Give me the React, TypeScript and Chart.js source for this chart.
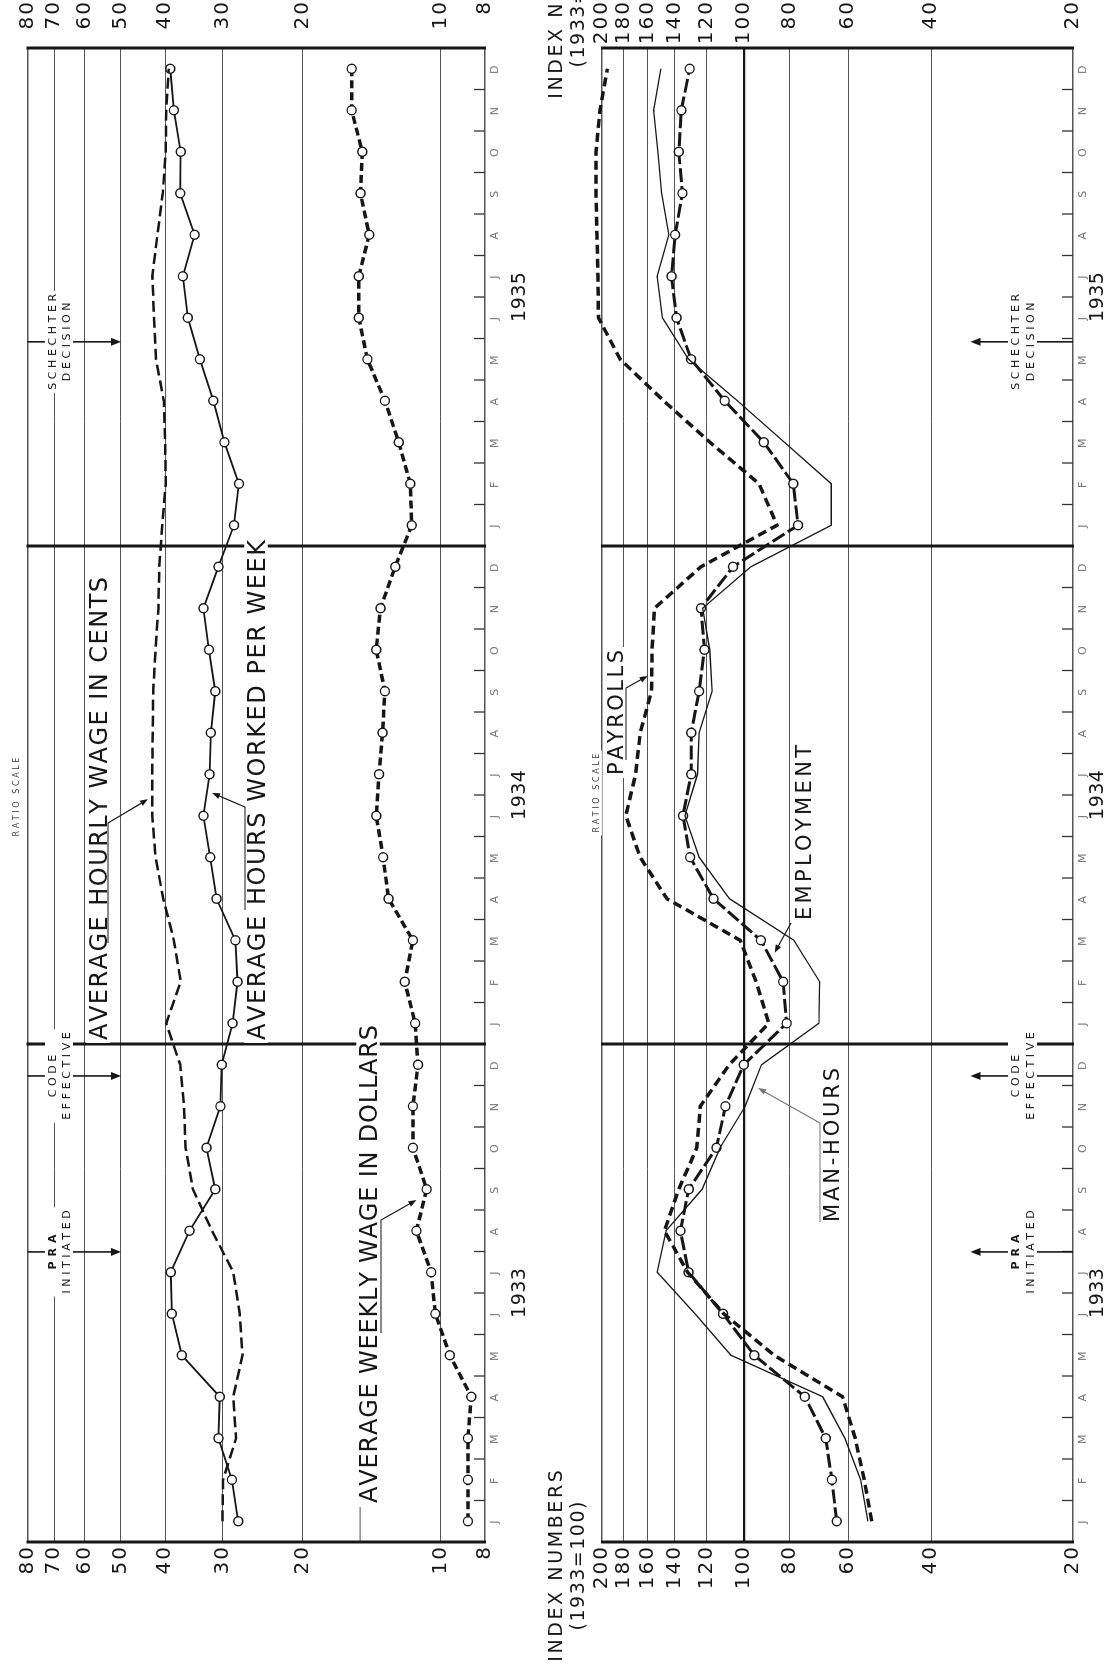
import React, { useEffect, useRef } from 'react';
import { Chart, registerables } from 'chart.js';

Chart.register(...registerables);

const FONT = '"DejaVu Sans", "Liberation Sans", Arial, sans-serif';
const NAT_W = 1676; // natural chart width (= screen height after rotation)
const INK = '#161616';

// ---------------- data ----------------
const monthInitials = ['J', 'F', 'M', 'A', 'M', 'J', 'J', 'A', 'S', 'O', 'N', 'D'];
const monthLabels = [...monthInitials, ...monthInitials, ...monthInitials];
const yearLabels = ['1933', '1934', '1935'];

const leftTicks = [8, 10, 20, 30, 40, 50, 60, 70, 80];
const rightTicks = [20, 40, 60, 80, 100, 120, 140, 160, 180, 200];

// Left panel (ratio scale)
const hourlyWageCents = [
  30.0, 29.9, 28.0, 28.4, 27.1, 27.5, 28.4, 31.6, 34.8, 36.1, 36.4, 37.1,
  39.8, 37.0, 38.3, 40.4, 42.0, 42.7, 42.7, 42.6, 42.5, 42.0, 41.4, 41.2,
  40.6, 39.9, 40.0, 40.3, 41.9, 42.3, 42.7, 41.6, 40.5, 39.9, 39.8, 39.3,
];
const hoursWorkedPerWeek = [
  27.7, 28.6, 30.6, 30.4, 36.8, 38.7, 38.9, 35.4, 31.1, 32.5, 30.3, 30.1,
  28.5, 27.8, 28.1, 30.9, 31.9, 33.0, 32.0, 31.8, 31.1, 32.1, 33.0, 30.6,
  28.3, 27.6, 29.7, 31.4, 33.6, 35.7, 36.6, 34.5, 37.1, 37.0, 38.3, 39.0,
];
const weeklyWageDollars = [
  8.72, 8.72, 8.72, 8.57, 9.55, 10.27, 10.49, 11.3, 10.73, 11.5, 11.5, 11.21,
  11.37, 11.98, 11.5, 13.0, 13.36, 13.83, 13.64, 13.4, 13.24, 13.83, 13.54, 12.57,
  11.57, 11.65, 12.35, 13.24, 14.46, 15.1, 15.1, 14.33, 14.97, 14.84, 15.65, 15.65,
];

// Right panel (index numbers, 1933 = 100)
const payrolls = [
  53.5, 55.5, 58, 61.7, 86.2, 110.3, 131.6, 147.4, 137.4, 125.8, 123.7, 107.4,
  88.5, 94.1, 101.8, 145.6, 166, 178, 169.7, 165.9, 157, 156.6, 154.7, 123.3,
  85, 92.8, 118, 148, 183, 203.5, 204, 205, 206, 206, 202, 194.8,
];
const manHours = [
  54.5, 56.5, 61, 68, 106.5, 127, 152.7, 146.2, 122.6, 112.3, 99.3, 91.7,
  69.3, 69, 78.3, 107.2, 124.4, 133.4, 125.4, 124.4, 116.7, 118.1, 122.3, 96.6,
  65.2, 65.2, 82, 103.2, 131, 148.9, 152.7, 144.3, 149.4, 152.2, 155.4, 150,
];
const employment = [
  63.5, 65, 67, 74.2, 95.0, 110.7, 131.0, 136.3, 130.9, 114.3, 109.4, 100,
  81.1, 82.5, 92, 116, 130, 134.6, 129.3, 129.3, 124.4, 121.2, 123.3, 105.4,
  76.7, 78.5, 90.7, 109.8, 129.4, 138.9, 142.4, 139.9, 135.0, 137.4, 135.7, 130.3,
];

// events (fractional month index, 0 = Jan 1933)
const eventLabels = [['PRA', 'INITIATED'], ['CODE', 'EFFECTIVE'], ['SCHECHTER', 'DECISION']];
const eventMonthIndex = [6.49, 10.73, 28.42];

// ---------------- drawing helpers ----------------
function capH(size: number) {
  return size * 0.729;
}

function measure(ctx: any, text: string, size: number, weight: string, spacing: number) {
  ctx.font = `${weight} ${size}px ${FONT}`;
  const chars = Array.from(text);
  const widths = chars.map((c) => ctx.measureText(c).width);
  const natural = widths.reduce((a, b) => a + b, 0);
  return { chars, widths, natural, total: natural + spacing * (chars.length - 1) };
}

function drawText(ctx: any, text: string, o: any) {
  const size = o.size;
  const weight = o.weight || 'normal';
  let spacing = o.spacing ?? 0;
  let m = measure(ctx, text, size, weight, spacing);
  let start: number;
  if (o.u0 !== undefined && o.u1 !== undefined) {
    spacing = (o.u1 - o.u0 - m.natural) / Math.max(1, m.chars.length - 1);
    m = measure(ctx, text, size, weight, spacing);
    start = o.u0;
  } else {
    start = o.uc - m.total / 2;
  }
  const ch = capH(size);
  if (o.bg) {
    ctx.fillStyle = '#fff';
    ctx.fillRect(start - 3, o.v - ch / 2 - 3, m.total + 6, ch + 6);
  }
  ctx.fillStyle = o.color || INK;
  ctx.textAlign = 'left';
  ctx.textBaseline = 'alphabetic';
  let u = start;
  m.chars.forEach((c, i) => {
    ctx.fillText(c, u, o.v + ch / 2);
    u += m.widths[i] + spacing;
  });
  return { start, end: start + m.total };
}

function arrowHead(ctx: any, fu: number, fv: number, tu: number, tv: number, len = 9, half = 3.5) {
  const a = Math.atan2(tv - fv, tu - fu);
  ctx.beginPath();
  ctx.moveTo(tu, tv);
  ctx.lineTo(tu - len * Math.cos(a) + half * Math.sin(a), tv - len * Math.sin(a) - half * Math.cos(a));
  ctx.lineTo(tu - len * Math.cos(a) - half * Math.sin(a), tv - len * Math.sin(a) + half * Math.cos(a));
  ctx.closePath();
  ctx.fill();
}

function makeDecor(spec: any) {
  const toU = (y: number) => NAT_W - y; // screen y -> natural x
  const toV = (x: number) => x - spec.offset; // screen x -> natural y (canvas local)
  return {
    id: 'decor',
    beforeLayout(chart: any) {
      // wider digit spacing for the axis lettering
      chart.ctx.letterSpacing = '2px';
    },
    beforeDatasetsDraw(chart: any) {
      const { ctx, chartArea: ca, scales } = chart;
      const xs = scales.x;
      const ys = scales.y;
      ctx.save();
      ctx.letterSpacing = '0px';
      if (spec.partialGrid) {
        const v = ys.getPixelForValue(spec.partialGrid.value);
        ctx.strokeStyle = '#555';
        ctx.lineWidth = 1;
        ctx.beginPath();
        ctx.moveTo(ca.left, v);
        ctx.lineTo(toU(spec.partialGrid.toY), v);
        ctx.stroke();
      }
      // month tick marks
      ctx.strokeStyle = '#333';
      ctx.lineWidth = 1.3;
      for (let i = 0; i < monthLabels.length - 1; i++) {
        const u = xs.getPixelForValue(i + 0.5);
        ctx.beginPath();
        ctx.moveTo(u, ca.bottom);
        ctx.lineTo(u, ca.bottom - 11);
        ctx.stroke();
      }
      // year boundaries and ends of the time axis
      ctx.strokeStyle = INK;
      ctx.lineWidth = 3;
      for (let k = 0; k <= yearLabels.length; k++) {
        const u = xs.getPixelForValue(k * 12 - 0.5);
        ctx.beginPath();
        ctx.moveTo(u, ca.top - 1);
        ctx.lineTo(u, ca.bottom + 1);
        ctx.stroke();
      }
      ctx.restore();
    },
    afterDatasetsDraw(chart: any) {
      const { ctx, chartArea: ca, scales } = chart;
      const xs = scales.x;
      const ys = scales.y;
      ctx.save();
      ctx.letterSpacing = '0px';
      // year labels
      yearLabels.forEach((yl, k) => {
        const u = xs.getPixelForValue(k * 12 + 5.5);
        drawText(ctx, yl, { uc: u, v: ca.bottom + spec.yearGap, size: 19, spacing: 0.5 });
      });
      // event arrows
      eventLabels.forEach((lines, k) => {
        const u = xs.getPixelForValue(eventMonthIndex[k]);
        const vEnd = ys.getPixelForValue(spec.eventReach);
        const vStart = spec.eventSide === 'top' ? ca.top : ca.bottom;
        const dir = vEnd > vStart ? 1 : -1;
        ctx.strokeStyle = INK;
        ctx.fillStyle = INK;
        ctx.lineWidth = 1.6;
        ctx.beginPath();
        ctx.moveTo(u, vStart);
        ctx.lineTo(u, vEnd - dir * 8);
        ctx.stroke();
        arrowHead(ctx, u, vStart, u, vEnd, 10, 4);
        const s1 = k === 0 ? 5 : 3.6;
        const m1 = measure(ctx, lines[0], 11, k === 0 ? 'bold' : 'normal', s1);
        const m2 = measure(ctx, lines[1], 11, 'normal', 3.6);
        const wMax = Math.max(m1.total, m2.total);
        const v1 = toV(spec.eventLine1);
        const v2 = toV(spec.eventLine2);
        ctx.fillStyle = '#fff';
        ctx.fillRect(u - wMax / 2 - 3, v1 - 7, wMax + 6, v2 - v1 + 14);
        drawText(ctx, lines[0], { uc: u, v: v1, size: 11, spacing: s1, weight: k === 0 ? 'bold' : 'normal' });
        drawText(ctx, lines[1], { uc: u, v: v2, size: 11, spacing: 3.6 });
      });
      // series labels
      spec.bigLabels.forEach((b: any) => {
        drawText(ctx, b.text, { u0: toU(b.yStart), u1: toU(b.yEnd), v: toV(b.x), size: b.size, bg: true });
      });
      // leaders
      spec.leaders.forEach((ld: any) => {
        const pts = ld.path.map((p: number[]) => [toU(p[1]), toV(p[0])]);
        const tu = xs.getPixelForValue(ld.tip[0]);
        const tv = ys.getPixelForValue(ld.tip[1]);
        const col = ld.color || INK;
        ctx.strokeStyle = col;
        ctx.fillStyle = col;
        ctx.lineWidth = 1.2;
        const last = pts[pts.length - 1];
        const a = Math.atan2(tv - last[1], tu - last[0]);
        ctx.beginPath();
        ctx.moveTo(pts[0][0], pts[0][1]);
        for (let i = 1; i < pts.length; i++) ctx.lineTo(pts[i][0], pts[i][1]);
        ctx.lineTo(tu - 7 * Math.cos(a), tv - 7 * Math.sin(a));
        ctx.stroke();
        arrowHead(ctx, last[0], last[1], tu, tv, 8, 3);
      });
      // ratio scale note
      drawText(ctx, 'RATIO SCALE', { uc: toU(spec.ratioY), v: toV(spec.ratioX), size: 8, spacing: 2.6, bg: true, color: '#444' });
      // index-number caption (top and bottom of the right panel)
      if (spec.indexLabel) {
        [1566, 3].forEach((y) => {
          drawText(ctx, 'INDEX NUMBERS', { uc: toU(y), v: toV(555), size: 19, spacing: 2.6 });
          drawText(ctx, '(1933=100)', { uc: toU(y), v: toV(577), size: 19, spacing: 1.5 });
        });
      }
      ctx.restore();
    },
  };
}

function buildChart(canvas: HTMLCanvasElement, spec: any) {
  const gridWidth = (c: any) => {
    const v = c.tick ? c.tick.value : null;
    if (v === spec.heavyTick) return 2.2;
    if (v === spec.min || v === spec.max) return 1.6;
    return 1;
  };
  const gridColor = (c: any) => (c.tick && c.tick.value === spec.heavyTick ? INK : '#555');
  const logAxis = (position: string, extra: any) => ({
    type: 'logarithmic',
    position,
    min: spec.min,
    max: spec.max,
    afterBuildTicks: (s: any) => {
      s.ticks = spec.ticks.map((value: number) => ({ value }));
    },
    border: { display: false },
    ...extra,
  });
  return new Chart(canvas, {
    type: 'line',
    data: { labels: monthLabels, datasets: spec.datasets },
    options: {
      responsive: false,
      animation: false,
      devicePixelRatio: 1,
      events: [],
      layout: { padding: { top: spec.padTop, left: 0, right: 0, bottom: 0 } },
      plugins: { legend: { display: false }, tooltip: { enabled: false } },
      scales: {
        x: {
          type: 'category',
          offset: true,
          grid: { display: false, drawTicks: false },
          border: { display: false },
          ticks: {
            autoSkip: false,
            maxRotation: 0,
            minRotation: 0,
            padding: spec.monthPad,
            color: '#777',
            font: { family: FONT, size: 11 },
          },
          afterFit: (s: any) => {
            s.height = spec.bottomAxis;
          },
        },
        y: logAxis('left', {
          grid: { color: gridColor, lineWidth: gridWidth, drawTicks: false },
          ticks: {
            autoSkip: false,
            padding: 3,
            color: INK,
            font: { family: FONT, size: 20 },
            callback: (v: any) => String(v),
          },
          afterFit: (s: any) => {
            s.width = 134;
          },
        }),
        y2: logAxis('right', {
          grid: { display: false, drawTicks: false },
          ticks: {
            autoSkip: false,
            padding: spec.farPad,
            crossAlign: 'far',
            color: INK,
            font: { family: FONT, size: 20 },
            callback: (v: any) => String(v),
          },
          afterFit: (s: any) => {
            s.width = 48;
          },
        }),
      },
    },
    plugins: [makeDecor(spec)],
  } as any);
}

const circle = {
  pointRadius: 4.5,
  pointBackgroundColor: '#fff',
  pointBorderColor: INK,
  pointBorderWidth: 1.4,
};

const leftSpec = {
  offset: 0,
  padTop: 16,
  bottomAxis: 55,
  monthPad: 4,
  yearGap: 33,
  min: 8,
  max: 80,
  ticks: leftTicks,
  farPad: 15.5,
  heavyTick: null,
  eventSide: 'top',
  eventReach: 50,
  eventLine1: 52,
  eventLine2: 66,
  ratioX: 16,
  ratioY: 797,
  partialGrid: { value: 15, toY: 1507 },
  indexLabel: false,
  bigLabels: [
    { text: 'AVERAGE HOURLY WAGE IN CENTS', x: 98, yStart: 1040, yEnd: 577, size: 24 },
    { text: 'AVERAGE HOURS WORKED PER WEEK', x: 256, yStart: 1040, yEnd: 540, size: 24 },
    { text: 'AVERAGE WEEKLY WAGE IN DOLLARS', x: 368, yStart: 1503, yEnd: 1025, size: 24 },
  ],
  leaders: [
    { path: [[108, 943], [108, 823]], tip: [17.4, 43.6] },
    { path: [[245, 910], [245, 807]], tip: [17.55, 31.6] },
    { path: [[381, 1333], [381, 1220]], tip: [7.74, 11.3] },
  ],
  datasets: [
    {
      label: 'Average hourly wage in cents',
      data: hourlyWageCents,
      borderColor: INK,
      borderWidth: 2.5,
      borderDash: [11, 5],
      pointRadius: 0,
      clip: 12,
    },
    {
      label: 'Average hours worked per week',
      data: hoursWorkedPerWeek,
      borderColor: INK,
      borderWidth: 1.8,
      clip: 12,
      ...circle,
    },
    {
      label: 'Average weekly wage in dollars',
      data: weeklyWageDollars,
      borderColor: INK,
      borderWidth: 3.5,
      borderDash: [8, 4],
      clip: 12,
      ...circle,
    },
  ],
};

const rightSpec = {
  offset: 540,
  padTop: 62,
  bottomAxis: 40,
  monthPad: 4,
  yearGap: 23,
  min: 20,
  max: 200,
  ticks: rightTicks,
  farPad: 2,
  heavyTick: 100,
  eventSide: 'bottom',
  eventReach: 33,
  eventLine1: 1015,
  eventLine2: 1030,
  ratioX: 596,
  ratioY: 793,
  partialGrid: null,
  indexLabel: true,
  bigLabels: [
    { text: 'PAYROLLS', x: 615, yStart: 775, yEnd: 650, size: 21 },
    { text: 'EMPLOYMENT', x: 803, yStart: 920, yEnd: 745, size: 21 },
    { text: 'MAN-HOURS', x: 831, yStart: 1222, yEnd: 1068, size: 21 },
  ],
  leaders: [
    { path: [[626, 760], [626, 688]], tip: [20.37, 160] },
    { path: [[791, 923]], tip: [13.7, 86] },
    { path: [[820, 1222], [820, 1123]], tip: [10.44, 93.3], color: '#777' },
  ],
  datasets: [
    {
      label: 'Payrolls',
      data: payrolls,
      borderColor: INK,
      borderWidth: 3.5,
      borderDash: [9, 5],
      pointRadius: 0,
      clip: 12,
    },
    {
      label: 'Man-hours',
      data: manHours,
      borderColor: INK,
      borderWidth: 1.3,
      pointRadius: 0,
      clip: 12,
    },
    {
      label: 'Employment',
      data: employment,
      borderColor: INK,
      borderWidth: 3,
      borderDash: [14, 4],
      clip: 12,
      ...circle,
    },
  ],
};

export default function App() {
  const leftRef = useRef<HTMLCanvasElement>(null);
  const rightRef = useRef<HTMLCanvasElement>(null);
  useEffect(() => {
    document.body.style.margin = '0';
    const charts = [buildChart(leftRef.current!, leftSpec), buildChart(rightRef.current!, rightSpec)];
    return () => charts.forEach((c) => c.destroy());
  }, []);
  return (
    <div
      style={{
        position: 'absolute',
        left: 0,
        top: 0,
        width: 1113,
        height: 1676,
        overflow: 'hidden',
        background: '#fff',
      }}
    >
      <div
        style={{
          position: 'absolute',
          left: 0,
          top: 0,
          width: NAT_W,
          height: 1113,
          transformOrigin: '0 0',
          transform: `translate(0px, ${NAT_W}px) rotate(-90deg)`,
        }}
      >
        <canvas ref={leftRef} width={NAT_W} height={540} style={{ display: 'block', width: NAT_W, height: 540 }} />
        <canvas ref={rightRef} width={NAT_W} height={573} style={{ display: 'block', width: NAT_W, height: 573 }} />
      </div>
    </div>
  );
}
